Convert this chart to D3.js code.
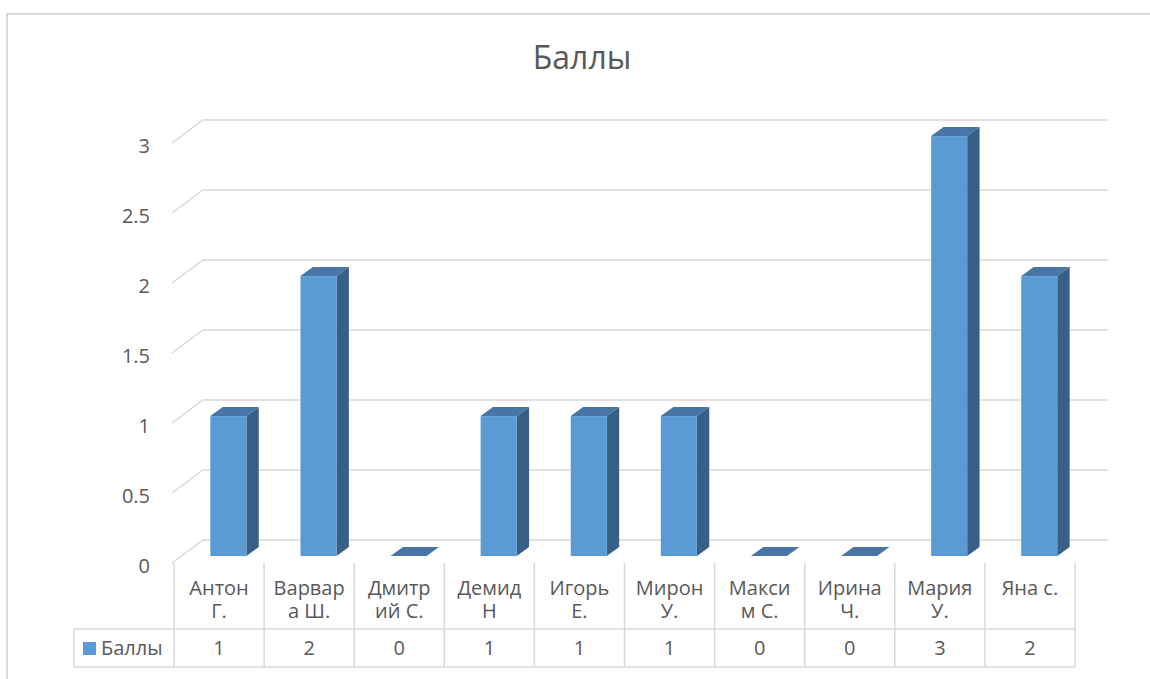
<!DOCTYPE html>
<html>
<head>
<meta charset="utf-8">
<script src="https://cdn.jsdelivr.net/npm/d3@7"></script>
<style>
  body { margin: 0; background: #fff; }
  text { font-family: "Open Sans", "Noto Sans", sans-serif; fill: #595959; }
</style>
</head>
<body>
<div id="chart"></div>
<script>
const title = "Баллы";
const seriesName = "Баллы";
const categories = ["Антон Г.", "Варвара Ш.", "Дмитрий С.", "Демид Н", "Игорь Е.",
                    "Мирон У.", "Максим С.", "Ирина Ч.", "Мария У.", "Яна с."];
const labelLines = [["Антон", "Г."], ["Варвар", "а Ш."], ["Дмитр", "ий С."], ["Демид", "Н"],
                    ["Игорь", "Е."], ["Мирон", "У."], ["Макси", "м С."], ["Ирина", "Ч."],
                    ["Мария", "У."], ["Яна с."]];
const values = [1, 2, 0, 1, 1, 1, 0, 0, 3, 2];
const yTicks = [0, 0.5, 1, 1.5, 2, 2.5, 3];

const width = 1150;
const height = 679;
const gridColor = "#D9D9D9";
const frontColor = "#5B9BD5";
const sideColor = "#386087";
const topColor = "#4675A6";

// front plane of the plot, and the depth offset to the back wall
const plotLeft = 174, plotRight = 1075;
const depthX = 31, depthY = -23;
const d0 = 0.3, d1 = 0.7; // bar depth range

const x = d3.scaleBand()
    .domain(categories)
    .range([plotLeft, plotRight])
    .paddingInner(0.6)
    .paddingOuter(0.3);

const y = d3.scaleLinear()
    .domain([0, 3])
    .range([563, 143]);

const svg = d3.select("#chart").append("svg")
    .attr("width", width)
    .attr("height", height);

// chart frame
svg.append("path")
    .attr("d", `M7,679V14H${width}`)
    .attr("fill", "none")
    .attr("stroke", gridColor)
    .attr("stroke-width", 2);

svg.append("text")
    .attr("x", 582)
    .attr("y", 69)
    .attr("text-anchor", "middle")
    .attr("font-size", 32)
    .text(title);

// gridlines: short diagonal at the side wall, then along the back wall
const grid = svg.append("g");
grid.selectAll("path")
    .data(yTicks)
    .join("path")
    .attr("d", d => {
        const fy = y(d);
        return `M${plotLeft - 2},${fy}L${plotLeft - 2 + depthX},${fy + depthY}H${plotRight + depthX + 2}`;
    })
    .attr("fill", "none")
    .attr("stroke", gridColor)
    .attr("stroke-width", 1.5);

svg.append("g").selectAll("text")
    .data(yTicks)
    .join("text")
    .attr("x", 150)
    .attr("y", d => y(d) + 3)
    .attr("dy", "0.35em")
    .attr("text-anchor", "end")
    .attr("font-size", 20)
    .text(d => d);

// 3D bars
const bars = svg.append("g").selectAll("g")
    .data(categories)
    .join("g");

bars.each(function(c, i) {
    const g = d3.select(this);
    const v = values[i];
    const xl = x(c) + d0 * depthX;
    const xr = xl + x.bandwidth();
    const yb = y(0) + d0 * depthY;
    const yt = y(v) + d0 * depthY;
    const ox = (d1 - d0) * depthX, oy = (d1 - d0) * depthY;
    if (v > 0) {
        g.append("path")
            .attr("d", `M${xr},${yt}L${xr + ox},${yt + oy}V${yb + oy}L${xr},${yb}Z`)
            .attr("fill", sideColor);
    }
    g.append("path")
        .attr("d", `M${xl},${yt}L${xl + ox},${yt + oy}H${xr + ox}L${xr},${yt}Z`)
        .attr("fill", topColor);
    if (v > 0) {
        g.append("rect")
            .attr("x", xl)
            .attr("y", yt)
            .attr("width", x.bandwidth())
            .attr("height", yb - yt)
            .attr("fill", frontColor);
    }
});

// data table
const step = x.step();
const table = svg.append("g")
    .attr("stroke", gridColor)
    .attr("stroke-width", 1.5);

table.selectAll("line.col")
    .data(d3.range(categories.length + 1))
    .join("line")
    .attr("class", "col")
    .attr("x1", i => plotLeft + i * step)
    .attr("x2", i => plotLeft + i * step)
    .attr("y1", 563)
    .attr("y2", 667);

table.append("line").attr("x1", 74).attr("x2", 74).attr("y1", 629).attr("y2", 667);
table.append("line").attr("x1", 74).attr("x2", plotRight).attr("y1", 629).attr("y2", 629);
table.append("line").attr("x1", 74).attr("x2", plotRight).attr("y1", 667).attr("y2", 667);

// category labels, one text per wrapped line
const catLines = [];
labelLines.forEach((lines, i) => lines.forEach((t, j) => catLines.push({ t, i, j })));

svg.append("g").selectAll("text")
    .data(catLines)
    .join("text")
    .attr("x", d => plotLeft + (d.i + 0.5) * step)
    .attr("y", d => 588 + d.j * 23)
    .attr("dy", "0.35em")
    .attr("text-anchor", "middle")
    .attr("font-size", 20)
    .text(d => d.t);

svg.append("g").selectAll("text")
    .data(values)
    .join("text")
    .attr("x", (v, i) => plotLeft + (i + 0.5) * step)
    .attr("y", 648)
    .attr("dy", "0.35em")
    .attr("text-anchor", "middle")
    .attr("font-size", 20)
    .text(v => v);

svg.append("rect")
    .attr("x", 83)
    .attr("y", 642)
    .attr("width", 13)
    .attr("height", 13)
    .attr("fill", frontColor);

svg.append("text")
    .attr("x", 101)
    .attr("y", 648)
    .attr("dy", "0.35em")
    .attr("font-size", 20)
    .text(seriesName);
</script>
</body>
</html>
